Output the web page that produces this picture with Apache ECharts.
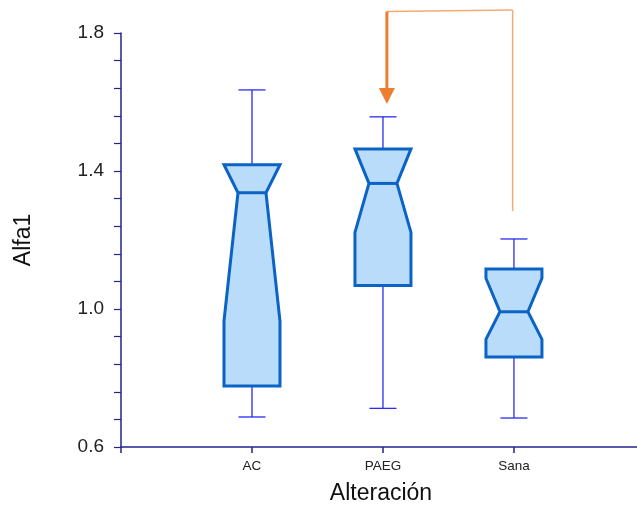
<!DOCTYPE html>
<html>
<head>
<meta charset="utf-8">
<script src="https://cdn.jsdelivr.net/npm/echarts@6/dist/echarts.min.js"></script>
<style>
html,body{margin:0;padding:0;background:#fff;}
#chart{width:637px;height:506px;}
</style>
</head>
<body>
<div id="chart"></div>
<script>
// ---- data ----
var categories = ['AC', 'PAEG', 'Sana'];
var whiskerLow  = [0.687, 0.712, 0.684];
var q1          = [0.777, 1.068, 0.861];
var notchLow    = [0.965, 1.222, 0.912];
var median      = [1.337, 1.364, 0.992];
var notchHigh   = [1.418, 1.464, 1.089];
var q3          = [1.418, 1.464, 1.116];
var whiskerHigh = [1.635, 1.557, 1.203];
var yTicks = [0.6, 1.0, 1.4, 1.8];
// significance annotation (x in category position units, y in Alfa1 units)
var annotArrow = [2.03, 1.594];
var annotEnd   = [2.99, 1.284];
var annotTop   = 1.862;

var boxData = categories.map(function (c, i) {
  return [i + 1, whiskerLow[i], q1[i], notchLow[i], median[i], notchHigh[i], q3[i], whiskerHigh[i]];
});

var BOX_HW = 28, NOTCH_HW = 14, CAP_HW = 13.5;
var boxStroke = '#0b63c5', boxFill = '#b9dcfb', whiskerColor = '#2a2af2';

function renderBox(params, api) {
  var x = api.value(0);
  var cx = api.coord([x, 0])[0];
  function Y(v) { return api.coord([x, v])[1]; }
  var yWL = Y(api.value(1)), yQ1 = Y(api.value(2)), yNL = Y(api.value(3)),
      yMed = Y(api.value(4)), yNH = Y(api.value(5)), yQ3 = Y(api.value(6)),
      yWH = Y(api.value(7));
  var pts = [
    [cx - BOX_HW, yQ3], [cx + BOX_HW, yQ3], [cx + BOX_HW, yNH],
    [cx + NOTCH_HW, yMed], [cx + BOX_HW, yNL], [cx + BOX_HW, yQ1],
    [cx - BOX_HW, yQ1], [cx - BOX_HW, yNL], [cx - NOTCH_HW, yMed],
    [cx - BOX_HW, yNH]
  ];
  var wl = {stroke: whiskerColor, lineWidth: 1.3};
  return {
    type: 'group',
    children: [
      {type: 'line', shape: {x1: cx, y1: yQ3, x2: cx, y2: yWH}, style: wl},
      {type: 'line', shape: {x1: cx - CAP_HW, y1: yWH, x2: cx + CAP_HW, y2: yWH}, style: wl},
      {type: 'line', shape: {x1: cx, y1: yQ1, x2: cx, y2: yWL}, style: wl},
      {type: 'line', shape: {x1: cx - CAP_HW, y1: yWL, x2: cx + CAP_HW, y2: yWL}, style: wl},
      {type: 'polygon', shape: {points: pts},
        style: {fill: boxFill, stroke: boxStroke, lineWidth: 3, lineJoin: 'miter'}},
      {type: 'line', shape: {x1: cx - NOTCH_HW, y1: yMed, x2: cx + NOTCH_HW, y2: yMed},
        style: {stroke: boxStroke, lineWidth: 3}}
    ]
  };
}

function renderAnnot(params, api) {
  var tip = api.coord([api.value(0), api.value(1)]);
  var end = api.coord([api.value(2), api.value(3)]);
  var topY = api.coord([api.value(0), api.value(4)])[1];
  var dark = '#ed7d31', light = '#f5aa74';
  return {
    type: 'group',
    children: [
      {type: 'line', shape: {x1: tip[0], y1: topY, x2: end[0], y2: topY - 1.5},
        style: {stroke: light, lineWidth: 1.5}},
      {type: 'line', shape: {x1: end[0], y1: topY - 1.5, x2: end[0], y2: end[1]},
        style: {stroke: light, lineWidth: 1.5}},
      {type: 'line', shape: {x1: tip[0], y1: topY, x2: tip[0], y2: tip[1] - 14},
        style: {stroke: dark, lineWidth: 3}},
      {type: 'polygon', shape: {points: [[tip[0] - 8, tip[1] - 16], [tip[0] + 8, tip[1] - 16], [tip[0], tip[1]]]},
        style: {fill: dark}}
    ]
  };
}

var axisColor = '#23238f';
var fontFam = '"Liberation Sans", Arial, sans-serif';
var chart = echarts.init(document.getElementById('chart'));
chart.setOption({
  animation: false,
  backgroundColor: '#ffffff',
  textStyle: {fontFamily: fontFam},
  grid: {left: 121, top: 33, right: -4, bottom: 59, containLabel: false, outerBoundsMode: 'none'},
  xAxis: {
    type: 'value', min: 0, max: 3.97, interval: 1,
    name: 'Alteración', nameLocation: 'middle', nameGap: 35,
    nameTextStyle: {fontSize: 23, color: '#111', fontFamily: fontFam},
    axisLine: {show: true, lineStyle: {color: axisColor, width: 1.5}},
    axisTick: {show: true, inside: false, length: 6, lineStyle: {color: axisColor, width: 1.5}},
    axisLabel: {
      fontSize: 13.5, color: '#222', margin: 12,
      formatter: function (v) {
        var i = Math.round(v);
        return (Math.abs(v - i) < 1e-6 && i >= 1 && i <= categories.length) ? categories[i - 1] : '';
      }
    },
    splitLine: {show: false}
  },
  yAxis: {
    type: 'value', min: yTicks[0], max: yTicks[yTicks.length - 1], interval: 0.4,
    name: 'Alfa1', nameLocation: 'middle', nameGap: 86, nameRotate: 90,
    nameTextStyle: {fontSize: 23, color: '#111', fontFamily: fontFam},
    axisLine: {show: true, lineStyle: {color: axisColor, width: 1.5}},
    axisTick: {show: true, length: 7, lineStyle: {color: axisColor, width: 1.2}},
    minorTick: {show: true, splitNumber: 5, length: 7, lineStyle: {color: axisColor, width: 1.2}},
    axisLabel: {fontSize: 19, color: '#222', margin: 17,
      formatter: function (v) { return v.toFixed(1); }},
    splitLine: {show: false},
    minorSplitLine: {show: false}
  },
  series: [
    {type: 'custom', renderItem: renderBox, data: boxData, clip: false, z: 3},
    {type: 'custom', renderItem: renderAnnot, clip: false, z: 4,
      data: [[annotArrow[0], annotArrow[1], annotEnd[0], annotEnd[1], annotTop]]}
  ]
});
</script>
</body>
</html>
